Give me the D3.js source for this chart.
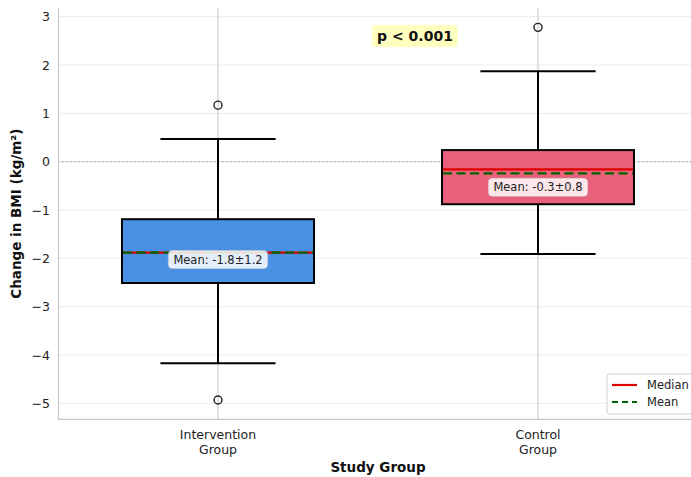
<!DOCTYPE html>
<html><head><meta charset="utf-8">
<script src="https://cdn.jsdelivr.net/npm/d3@7/dist/d3.min.js"></script>
<style>body{margin:0;background:#fff;font-family:"DejaVu Sans",sans-serif;}</style>
</head><body><svg id="c" width="691" height="477"></svg>
<script>
const groups = ["Intervention\nGroup", "Control\nGroup"];
const q1 = [-2.51, -0.88];
const q3 = [-1.19, 0.24];
const medians = [-1.88, -0.16];
const means = [-1.88, -0.24];
const whiskLow = [-4.17, -1.91];
const whiskHigh = [0.47, 1.87];
const outliers = [[1.17, -4.93], [2.78]];
const meanLabels = ["Mean: -1.8±1.2", "Mean: -0.3±0.8"];
const colors = ["#4a90e2", "#e8607a"];
const yTicks = [-5, -4, -3, -2, -1, 0, 1, 2, 3];

const svg = d3.select("#c");
const L = 58, R = 698, T = 8, B = 419.3;
const x = d3.scaleLinear().domain([-0.5, 1.5]).range([L, R]);
const y = d3.scaleLinear().domain([-5.33, 3.18]).range([B, T]);
const bw = 0.6, cw = 0.36;
const labelShift = [7, 14];

// grid
svg.append("g").selectAll("line").data(yTicks).join("line")
  .attr("x1", L).attr("x2", R).attr("y1", d => y(d)).attr("y2", d => y(d))
  .attr("stroke", "#ebebeb").attr("stroke-width", 1);
svg.append("g").selectAll("line").data(groups).join("line")
  .attr("x1", (d, i) => x(i)).attr("x2", (d, i) => x(i)).attr("y1", T).attr("y2", B)
  .attr("stroke", "#cfcfcf").attr("stroke-width", 1.2);
// zero line
svg.append("line").attr("x1", L).attr("x2", R).attr("y1", y(0)).attr("y2", y(0))
  .attr("stroke", "#888").attr("stroke-width", 1).attr("stroke-dasharray", "1.5,2.5");

// axes
const yAxis = d3.axisLeft(y).tickValues(yTicks).tickSize(0).tickPadding(8)
  .tickFormat(d => d < 0 ? "\u2212" + Math.abs(d) : d);
const gy = svg.append("g").attr("transform", `translate(${L},0)`).call(yAxis);
gy.select(".domain").attr("stroke", "#c8c8c8").attr("stroke-width", 1.2);
gy.selectAll("text").attr("font-size", 12.5).attr("fill", "#222").attr("font-family", "DejaVu Sans");
svg.append("line").attr("x1", L).attr("x2", R).attr("y1", B).attr("y2", B)
  .attr("stroke", "#c8c8c8").attr("stroke-width", 1.2);

// x tick labels
groups.forEach((g, i) => {
  const t = svg.append("text").attr("x", x(i)).attr("y", 439).attr("text-anchor", "middle")
    .attr("font-size", 12.5).attr("fill", "#222");
  g.split("\n").forEach((s, k) => t.append("tspan").attr("x", x(i)).attr("dy", k ? 14.5 : 0).text(s));
});

// boxes
groups.forEach((g, i) => {
  const c = x(i);
  const hw = (x(bw / 2) - x(0));
  const chw = (x(cw / 2) - x(0));
  svg.append("line").attr("x1", c).attr("x2", c).attr("y1", y(q3[i])).attr("y2", y(whiskHigh[i])).attr("stroke", "#000").attr("stroke-width", 2);
  svg.append("line").attr("x1", c).attr("x2", c).attr("y1", y(q1[i])).attr("y2", y(whiskLow[i])).attr("stroke", "#000").attr("stroke-width", 2);
  [whiskLow[i], whiskHigh[i]].forEach(v => svg.append("line").attr("x1", c - chw).attr("x2", c + chw)
    .attr("y1", y(v)).attr("y2", y(v)).attr("stroke", "#000").attr("stroke-width", 2));
  svg.append("rect").attr("x", c - hw).attr("width", 2 * hw).attr("y", y(q3[i])).attr("height", y(q1[i]) - y(q3[i]))
    .attr("fill", colors[i]).attr("stroke", "#000").attr("stroke-width", 2);
  svg.append("line").attr("x1", c - hw + 1).attr("x2", c + hw - 1).attr("y1", y(medians[i])).attr("y2", y(medians[i]))
    .attr("stroke", "#e00000").attr("stroke-width", 2.2);
  svg.append("line").attr("x1", c - hw + 1).attr("x2", c + hw - 1).attr("y1", y(means[i])).attr("y2", y(means[i]))
    .attr("stroke", "#006400").attr("stroke-width", 2.2).attr("stroke-dasharray", "9,4.5");
  outliers[i].forEach(v => svg.append("circle").attr("cx", c).attr("cy", y(v)).attr("r", 4)
    .attr("fill", "none").attr("stroke", "#222").attr("stroke-width", 1.4));
  const ly = y(means[i]) + labelShift[i];
  const txt = svg.append("text").attr("x", c).attr("y", ly).attr("text-anchor", "middle")
    .attr("dominant-baseline", "central").attr("font-size", 11.5).attr("fill", "#222").text(meanLabels[i]);
  const bb = txt.node().getBBox();
  svg.insert("rect", () => txt.node()).attr("x", bb.x - 5).attr("y", bb.y - 2).attr("width", bb.width + 10)
    .attr("height", bb.height + 4).attr("rx", 4).attr("fill", "#fff").attr("fill-opacity", 0.85)
    .attr("stroke", "#ccc").attr("stroke-width", 0.6);
});

// p-value
const pt = svg.append("text").attr("x", 415).attr("y", 36).attr("text-anchor", "middle")
  .attr("dominant-baseline", "central").attr("font-size", 14).attr("font-weight", "bold").attr("fill", "#111").text("p < 0.001");
const pb = pt.node().getBBox();
svg.insert("rect", () => pt.node()).attr("x", pb.x - 5).attr("y", pb.y - 3).attr("width", pb.width + 10)
  .attr("height", pb.height + 6).attr("rx", 4).attr("fill", "#ffffb8").attr("fill-opacity", 0.9);

// axis titles
svg.append("text").attr("x", (L + R) / 2).attr("y", 472).attr("text-anchor", "middle")
  .attr("font-size", 13.5).attr("font-weight", "bold").attr("fill", "#111").text("Study Group");
svg.append("text").attr("transform", `translate(21,${(T + B) / 2}) rotate(-90)`).attr("text-anchor", "middle")
  .attr("font-size", 13.5).attr("font-weight", "bold").attr("fill", "#111").text("Change in BMI (kg/m²)");

// legend
const lg = svg.append("g").attr("transform", "translate(607,374)");
lg.append("rect").attr("x", 0).attr("y", 0).attr("width", 95).attr("height", 40).attr("rx", 3)
  .attr("fill", "#fff").attr("stroke", "#d0d0d0").attr("stroke-width", 1);
const items = [["Median", "#e00000", null], ["Mean", "#006400", "6,4"]];
items.forEach((it, k) => {
  const yy = 11 + k * 17;
  lg.append("line").attr("x1", 5).attr("x2", 30).attr("y1", yy).attr("y2", yy).attr("stroke", it[1])
    .attr("stroke-width", 2.2).attr("stroke-dasharray", it[2]);
  lg.append("text").attr("x", 40).attr("y", yy).attr("dominant-baseline", "central").attr("font-size", 11.5)
    .attr("fill", "#222").text(it[0]);
});
</script></body></html>
